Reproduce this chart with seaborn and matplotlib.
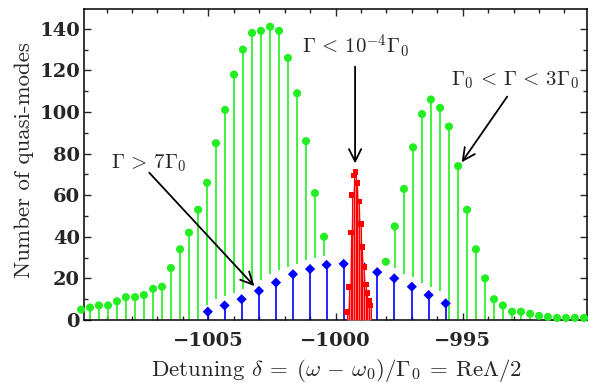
import matplotlib
matplotlib.use("Agg")
import matplotlib.pyplot as plt
from matplotlib.ticker import MultipleLocator, FixedLocator, FixedFormatter
import seaborn as sns

# green: Gamma0 < Gamma < 3 Gamma0 (stems start at green_base)
green_x = [-1010.00, -1009.65, -1009.30, -1008.94, -1008.59, -1008.24, -1007.88, -1007.53,
           -1007.17, -1006.82, -1006.47, -1006.11, -1005.76, -1005.40, -1005.05, -1004.70,
           -1004.34, -1003.99, -1003.64, -1003.28, -1002.93, -1002.57, -1002.22, -1001.87,
           -1001.51, -1001.16, -1000.81, -1000.45,
           -998.02, -997.67, -997.31, -996.95, -996.60, -996.25, -995.89, -995.54, -995.18,
           -994.83, -994.48, -994.12, -993.77, -993.42, -993.06, -992.71, -992.35, -992.00,
           -991.65, -991.29, -990.94, -990.59, -990.23]
green_n = [5, 6, 7, 7, 9, 11, 11, 12,
           15, 16, 25, 34, 42, 53, 66, 85,
           101, 118, 130, 138, 139, 141, 139, 126,
           109, 86, 61, 40,
           28, 45, 63, 83, 99, 106, 102, 93, 74,
           53, 34, 20, 10, 7, 4, 4, 3, 2,
           1.5, 1, 1, 1, 1]
green_base = [0, 0, 0, 0, 0, 0, 0, 0,
              0, 0, 0, 0, 0, 0, 7, 10,
              11.5, 13, 15, 17, 19, 22, 24, 25.5,
              27, 29, 30, 31,
              28, 25, 22, 20.5, 18, 16, 14, 0, 0,
              0, 0, 0, 0, 0, 0, 0, 0, 0,
              0, 0, 0, 0, 0]

# blue: Gamma > 7 Gamma0
blue_x = [-1005.02, -1004.36, -1003.69, -1003.01, -1002.34, -1001.67, -1001.00, -1000.35,
          -999.68, -999.01, -998.36, -997.69, -997.00, -996.34, -995.67]
blue_n = [4, 7, 10, 14, 18, 22, 24.5, 26.5, 27, 27, 23, 20, 16, 12, 8]

# red: Gamma < 1e-4 Gamma0
red_x = [-999.54, -999.47, -999.40, -999.34, -999.27, -999.21, -999.14, -999.08,
         -999.01, -998.95, -998.88, -998.81, -998.75, -998.68, -998.62]
red_n = [4, 16, 42, 60, 69.5, 71, 66, 57, 46, 35, 25.5, 17, 13, 9, 7]

x_ticks = [-1005, -1000, -995]
y_ticks = [0, 20, 40, 60, 80, 100, 120, 140]

green = "#22ee22"

sns.set_style("ticks")
plt.rcParams["mathtext.fontset"] = "cm"
plt.rcParams["font.family"] = "serif"
plt.rcParams["font.serif"] = ["cmr10", "DejaVu Serif"]
plt.rcParams["axes.formatter.use_mathtext"] = True

fig = plt.figure(figsize=(5.93, 3.84), dpi=100)
ax = fig.add_axes([84 / 593, 64 / 384, 503 / 593, 311 / 384])

# stems
ax.vlines(green_x, green_base, green_n, color=green, lw=1.2, zorder=2)
ax.vlines(blue_x, 0, blue_n, color="#0000ff", lw=1.2, zorder=2)
ax.fill_between(red_x, 0, red_n, color="#ff8a8a", lw=0, zorder=3)
ax.vlines(red_x, 0, red_n, color="#ff0000", lw=0.8, zorder=3)

# markers
sns.scatterplot(x=green_x, y=green_n, ax=ax, marker="o", s=34, color=green,
                edgecolor="none", clip_on=False, zorder=4)
sns.scatterplot(x=blue_x, y=blue_n, ax=ax, marker="D", s=27, color="#0000ff",
                edgecolor="none", zorder=2.5)
sns.scatterplot(x=red_x, y=red_n, ax=ax, marker="s", s=17, color="#ff0000",
                edgecolor="none", zorder=5)

ax.set_xlim(-1009.886, -990.114)
ax.set_ylim(0, 149.5)

tick_font = dict(family="DejaVu Serif", weight="bold", size=14)
ax.xaxis.set_major_locator(FixedLocator(x_ticks))
ax.xaxis.set_major_formatter(FixedFormatter(["\u2212%d" % abs(t) for t in x_ticks]))
ax.xaxis.set_minor_locator(MultipleLocator(1))
ax.yaxis.set_major_locator(FixedLocator(y_ticks))
ax.yaxis.set_major_formatter(FixedFormatter(["%d" % t for t in y_ticks]))
ax.yaxis.set_minor_locator(MultipleLocator(10))
ax.tick_params(which="both", direction="in", top=True, right=True, width=1.0)
ax.tick_params(which="major", length=5)
ax.tick_params(which="minor", length=3)
ax.tick_params(axis="x", which="major", pad=9)
ax.tick_params(axis="y", which="major", pad=3)
for lab in ax.get_xticklabels() + ax.get_yticklabels():
    lab.set_fontproperties(tick_font)
for s in ax.spines.values():
    s.set_linewidth(1.1)
    s.set_color("black")

ax.set_xlabel(r"Detuning $\delta\:=\:(\omega\,-\,\omega_0)/\Gamma_0\:=\:\mathrm{Re}\Lambda/2$",
              fontsize=16.5)
ax.set_ylabel("Number of quasi-modes", fontsize=16.5)
ax.xaxis.set_label_coords(0.503, -0.118)
ax.yaxis.set_label_coords(-0.10, 0.514)

arrow = dict(arrowstyle="->", lw=1.3, color="black", mutation_scale=22, shrinkA=0, shrinkB=0)
ax.annotate("", xy=(-1003.19, 16.3), xytext=(-1007.32, 70.8), arrowprops=arrow, zorder=6)
ax.text(-1007.33, 75.5, r"$\Gamma\,>\,7\Gamma_0$", fontsize=15, ha="center", va="center")
ax.annotate("", xy=(-999.23, 75.3), xytext=(-999.23, 121.8), arrowprops=arrow, zorder=6)
ax.text(-999.23, 131.5, r"$\Gamma\,<\,10^{-4}\Gamma_0$", fontsize=15, ha="center", va="center")
ax.annotate("", xy=(-995.04, 75.8), xytext=(-993.25, 107.4), arrowprops=arrow, zorder=6)
ax.text(-992.94, 115.5, r"$\Gamma_0\,<\,\Gamma\,<\,3\Gamma_0$", fontsize=15, ha="center", va="center")

fig.savefig("out.png", dpi=100)
